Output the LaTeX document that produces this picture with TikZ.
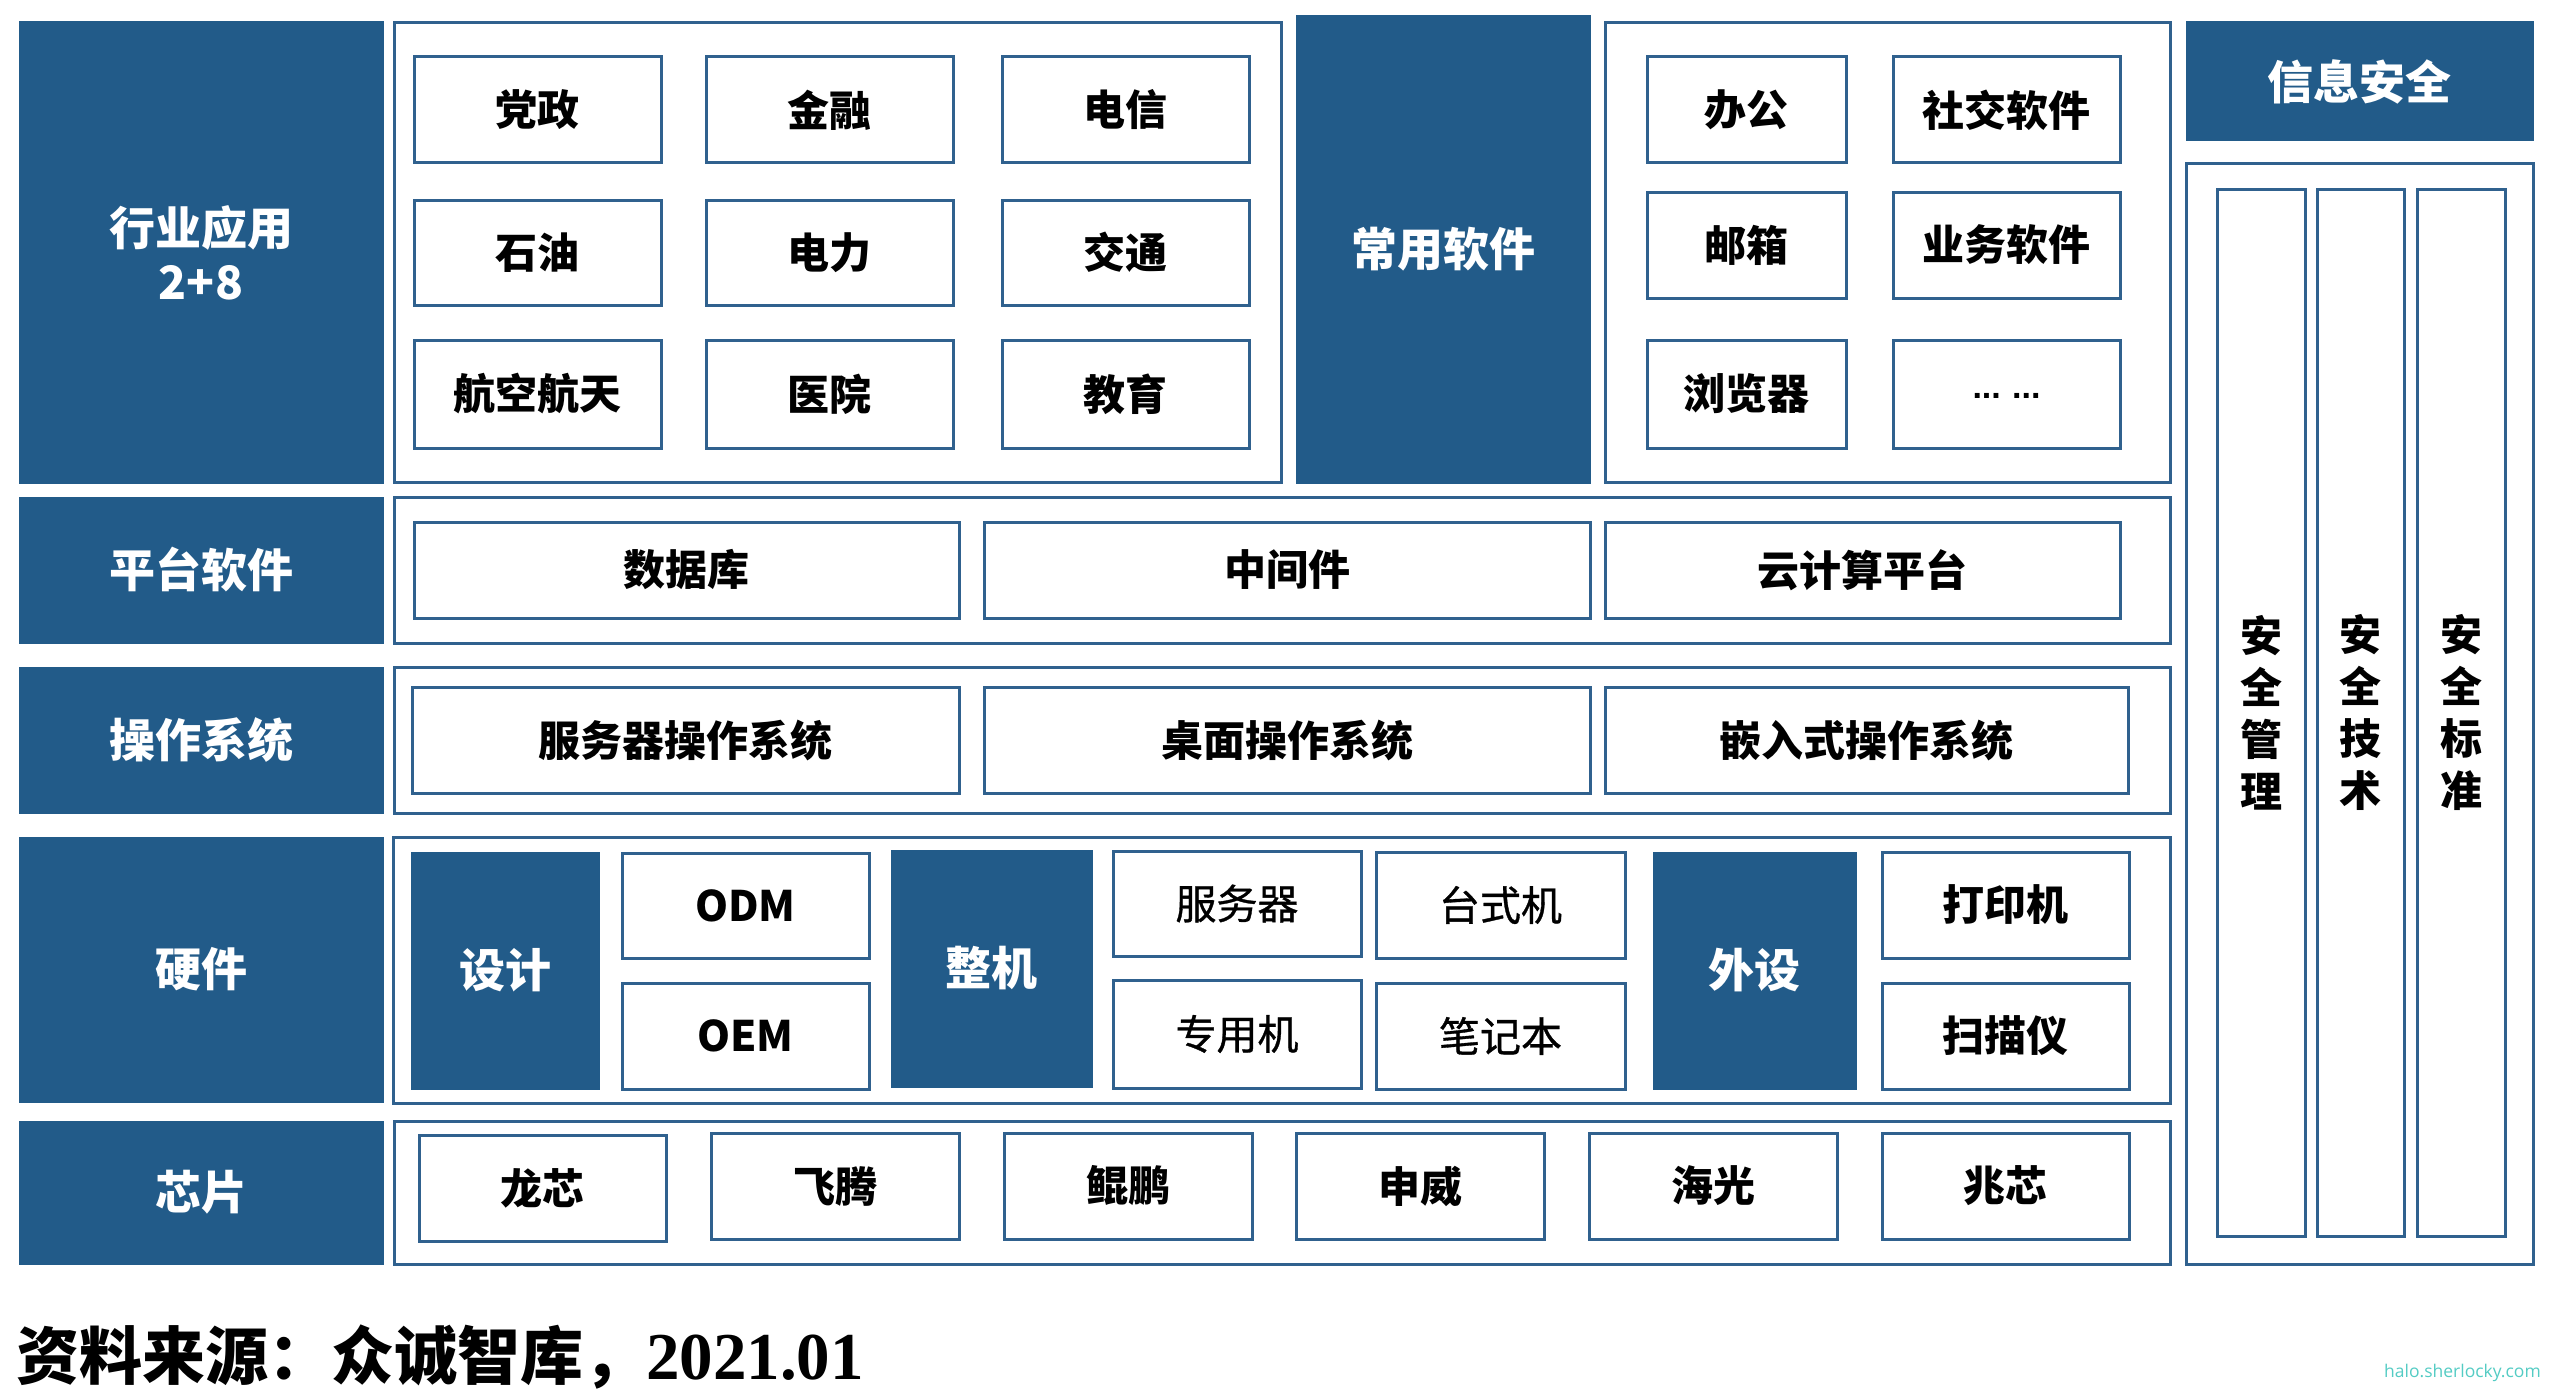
\documentclass[tikz,border=0pt]{standalone}
\usepackage{fontspec}
\setmainfont{Noto Sans CJK SC}
\newfontfamily\cjkmed[FakeBold=0.8]{Noto Sans CJK SC}
\newfontfamily\tnr{Liberation Serif}
\newfontfamily\wmfont{Open Sans}
\newfontfamily\dotfont{Liberation Sans}
\definecolor{hb}{RGB}{34,91,137}
\definecolor{bd}{RGB}{48,97,142}
\definecolor{wm}{RGB}{84,204,196}
\newcommand\mkbox[7]{\node[#1, minimum width={#4-#2}, minimum height={#5-#3}] (#6) at ({(#2+#4)/2},{(#3+#5)/2}) {#7};}
\tikzset{
  dark/.style={fill=hb, draw=hb, line width=1pt, text=white, inner sep=0pt, outer sep=0pt, align=center,
    font=\bfseries\fontsize{46}{54}\selectfont},
  panel/.style={fill=white, draw=bd, line width=3pt, inner sep=0pt, outer sep=0pt},
  wbox/.style={fill=white, draw=bd, line width=3pt, text=black, inner sep=0pt, outer sep=0pt, align=center,
    font=\bfseries\fontsize{42}{52}\selectfont},
  wreg/.style={wbox, font=\cjkmed\fontsize{41}{50}\selectfont},
  vbox/.style={wbox, font=\bfseries\fontsize{42}{52}\selectfont},
}
\begin{document}
\begin{tikzpicture}[x=1pt,y=-1pt]
\useasboundingbox[fill=white] (0,0) rectangle (2552,1394);
% left layer labels
\mkbox{dark}{19}{22}{383}{483}{L1}{行业应用\\2+8}
\mkbox{dark}{19}{497}{383}{643}{L2}{平台软件}
\mkbox{dark}{19}{667}{383}{813}{L3}{操作系统}
\mkbox{dark}{19}{837}{383}{1102}{L4}{硬件}
\mkbox{dark}{19}{1121}{383}{1264}{L5}{芯片}
% panels
\mkbox{panel}{394}{23}{1281}{482}{P1}{}
\mkbox{dark}{1296}{16}{1590}{483}{CY}{常用软件}
\mkbox{panel}{1605}{23}{2170}{482}{P2}{}
\mkbox{panel}{394}{497}{2170}{643}{P3}{}
\mkbox{panel}{394}{667}{2170}{813}{P4}{}
\mkbox{panel}{393}{837}{2170}{1103}{P5}{}
\mkbox{panel}{394}{1121}{2170}{1264}{P6}{}
\mkbox{dark}{2186}{22}{2533}{141}{S0}{信息安全}
\mkbox{panel}{2186}{164}{2533}{1264}{S1}{}
\mkbox{vbox}{2217}{189}{2305}{1236}{S2}{安\\全\\管\\理}
\mkbox{vbox}{2317}{189}{2404}{1236}{S3}{安\\全\\技\\术}
\mkbox{vbox}{2417}{189}{2505}{1236}{S4}{安\\全\\标\\准}
% industry apps
\mkbox{wbox}{414}{57}{661}{163}{A1}{党政}
\mkbox{wbox}{706}{57}{953}{163}{A2}{金融}
\mkbox{wbox}{1002}{57}{1249}{163}{A3}{电信}
\mkbox{wbox}{414}{200}{661}{305}{A4}{石油}
\mkbox{wbox}{706}{200}{953}{305}{A5}{电力}
\mkbox{wbox}{1002}{200}{1249}{305}{A6}{交通}
\mkbox{wbox}{414}{340}{661}{448}{A7}{航空航天}
\mkbox{wbox}{706}{340}{953}{448}{A8}{医院}
\mkbox{wbox}{1002}{340}{1249}{448}{A9}{教育}
% common software
\mkbox{wbox}{1647}{57}{1846}{163}{B1}{办公}
\mkbox{wbox}{1893}{57}{2120}{163}{B2}{社交软件}
\mkbox{wbox}{1647}{192}{1846}{298}{B3}{邮箱}
\mkbox{wbox}{1893}{192}{2120}{298}{B4}{业务软件}
\mkbox{wbox}{1647}{340}{1846}{448}{B5}{浏览器}
\mkbox{wbox}{1893}{340}{2120}{448}{B6}{\raisebox{-8pt}{\dotfont\bfseries\fontsize{34}{40}\selectfont ...\,\,...}}
% platform software
\mkbox{wbox}{414}{522}{959}{618}{C1}{数据库}
\mkbox{wbox}{984}{522}{1590}{618}{C2}{中间件}
\mkbox{wbox}{1605}{522}{2120}{618}{C3}{云计算平台}
% operating systems
\mkbox{wbox}{412}{687}{959}{793}{D1}{服务器操作系统}
\mkbox{wbox}{984}{687}{1590}{793}{D2}{桌面操作系统}
\mkbox{wbox}{1605}{687}{2128}{793}{D3}{嵌入式操作系统}
% hardware
\mkbox{dark}{411}{852}{599}{1089}{E1}{设计}
\mkbox{wbox}{622}{853}{869}{958}{E2}{ODM}
\mkbox{wbox}{622}{983}{869}{1089}{E3}{OEM}
\mkbox{dark}{891}{850}{1092}{1087}{E4}{整机}
\mkbox{wreg}{1113}{851}{1361}{956}{E5}{服务器}
\mkbox{wreg}{1113}{980}{1361}{1088}{E6}{专用机}
\mkbox{wreg}{1376}{852}{1625}{958}{E7}{台式机}
\mkbox{wreg}{1376}{983}{1625}{1089}{E8}{笔记本}
\mkbox{dark}{1653}{852}{1856}{1089}{E9}{外设}
\mkbox{wbox}{1882}{852}{2129}{958}{E10}{打印机}
\mkbox{wbox}{1882}{983}{2129}{1089}{E11}{扫描仪}
% chips
\mkbox{wbox}{419}{1135}{666}{1241}{F1}{龙芯}
\mkbox{wbox}{711}{1133}{959}{1239}{F2}{飞腾}
\mkbox{wbox}{1004}{1133}{1252}{1239}{F3}{鲲鹏}
\mkbox{wbox}{1296}{1133}{1544}{1239}{F4}{申威}
\mkbox{wbox}{1589}{1133}{1837}{1239}{F5}{海光}
\mkbox{wbox}{1882}{1133}{2129}{1239}{F6}{兆芯}
% footer
\node[anchor=west, inner sep=0pt, font=\bfseries\fontsize{63}{70}\selectfont] (src) at (16,1357) {资料来源：众诚智库，{\tnr\bfseries\fontsize{67}{70}\selectfont 2021.01}};
\node[anchor=east, inner sep=0pt, text=wm, font=\wmfont\fontsize{17.5}{18}\selectfont] (wmk) at (2541,1373) {halo.sherlocky.com};
\end{tikzpicture}
\end{document}
